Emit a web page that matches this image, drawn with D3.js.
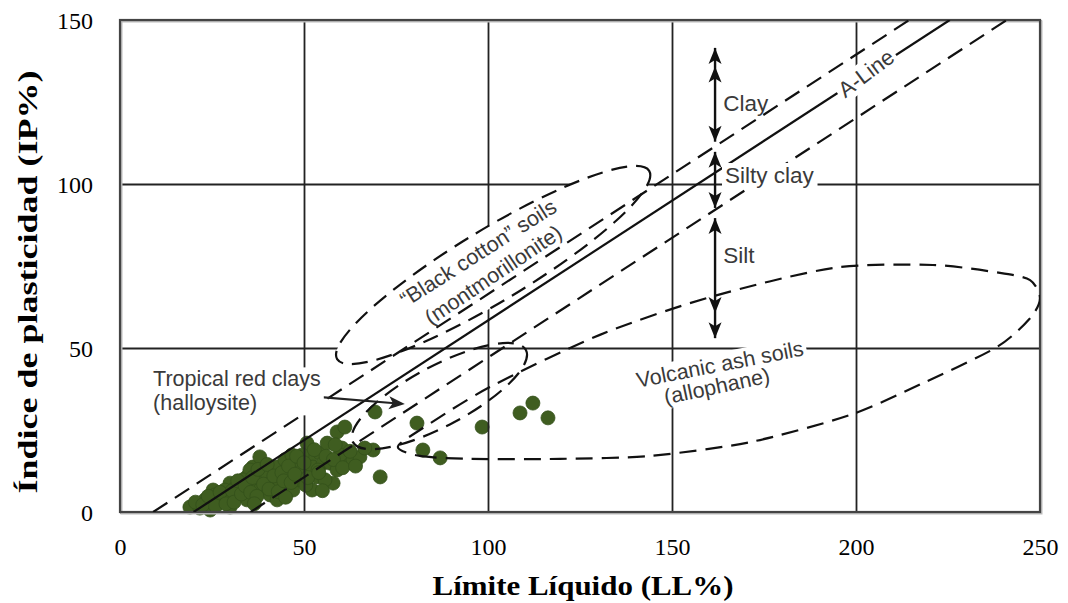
<!DOCTYPE html>
<html>
<head>
<meta charset="utf-8">
<script src="https://cdn.jsdelivr.net/npm/d3@7"></script>
<style>
  body { margin: 0; background: #fff; }
  svg { display: block; }
</style>
</head>
<body>
<svg id="chart" width="1068" height="603"></svg>
<script>
// Plasticity chart: liquid limit vs plasticity index, with soil groups

const xTicks = [0, 50, 100, 150, 200, 250];
const yTicks = [0, 50, 100, 150];

// A-line family, PI = slope * (LL - offset)
const lineSlope = 0.73;
const boundaryOffsets = [9, 20, 35.5];
const boundaryDashed = [true, false, true];

// Measured samples
const liquidLimit = [
  19.0, 21.7, 24.5, 23.1, 25.3, 26.6, 28.0, 29.9, 29.9, 31.8, 32.6, 34.5, 34.5,
  36.1, 36.7, 38.0, 38.0, 38.6, 39.9, 40.8, 41.3, 42.7, 42.7, 43.5, 44.8, 45.4,
  46.2, 47.0, 48.1, 48.9, 49.7, 50.8, 51.6, 52.4, 52.2, 53.5, 54.3, 55.2, 56.3,
  57.1, 57.9, 59.0, 59.0, 60.3, 61.1, 61.7, 63.3, 65.2, 68.8, 69.3, 70.7,
  35.3, 33.4, 31.3, 28.5, 25.8, 29.3, 46.7, 49.5, 53.8, 55.7, 59.8, 50.5,
  20.5, 22.5, 24.0, 26.0, 27.2, 28.8, 30.5, 31.0, 32.0, 33.0, 34.0, 35.5,
  36.0, 37.2, 37.5, 39.0, 40.0, 40.5, 41.8, 43.0, 44.0, 44.5, 45.8, 46.5,
  47.5, 48.0, 50.0, 51.0, 52.8, 54.0, 56.0, 58.0, 60.5, 62.5, 64.0, 66.5,
  58.5, 55.0, 45.0, 36.5,
  80.7, 82.3, 87.0, 98.4, 108.7, 112.2, 116.3
];
const plasticityIndex = [
  1.5, 1.2, 0.6, 3.7, 6.7, 2.7, 4.6, 8.8, 1.5, 5.2, 7.3, 10.7, 3.7,
  13.7, 8.2, 6.7, 16.8, 11.3, 11.9, 5.2, 9.1, 13.7, 3.7, 8.8, 15.9, 11.3,
  12.8, 6.7, 14.9, 9.8, 12.8, 21.0, 16.5, 13.7, 6.7, 10.7, 18.0, 14.9, 21.0,
  14.9, 8.8, 12.8, 24.4, 19.5, 25.9, 14.9, 15.9, 16.8, 18.9, 30.5, 10.7,
  12.8, 9.8, 7.3, 6.7, 5.2, 3.7, 17.4, 17.4, 12.8, 9.8, 17.4, 8.2,
  3.0, 2.2, 4.8, 1.8, 6.0, 2.5, 6.5, 3.0, 9.5, 5.5, 8.0, 6.0,
  10.5, 4.8, 13.0, 8.5, 14.5, 7.0, 11.0, 6.2, 12.0, 9.5, 14.0, 9.0,
  11.5, 17.0, 15.0, 10.5, 19.0, 12.0, 17.0, 16.0, 13.5, 18.5, 14.0, 19.5,
  20.5, 6.5, 4.5, 2.5,
  27.1, 18.9, 16.5, 25.9, 30.2, 33.2, 28.7
];

// Soil group outlines (LL, PI)
const blackCottonEnds = [[59.0, 46.6], [143.8, 104.0]];
const tropicalEnds = [[63.3, 21.3], [110.3, 49.4]];
const volcanicOutline = [
  [75.5, 19.8], [81.5, 17.1], [95.1, 16.2], [119.6, 16.2], [144.0, 17.1],
  [171.2, 21.3], [198.4, 29.6], [218.2, 39.3], [238.3, 50.3], [247.3, 59.1],
  [250.0, 65.2], [247.3, 70.7], [239.1, 72.9], [220.9, 75.3], [193.8, 74.4],
  [160.3, 65.5], [130.4, 54.0], [100.5, 38.1], [81.5, 25.0]
];

// Range arrows at LL = 161.7 (PI from, PI to)
const arrowLL = 161.7;
const rangeArrows = [
  { from: 112.9, to: 141.5, heads: [[141.5, 1], [135.8, 1], [112.9, -1]] },
  { from: 92.7, to: 109.8, heads: [[109.8, 1], [92.7, -1]] },
  { from: 53.0, to: 89.6, heads: [[89.6, 1], [60.7, -1], [53.0, -1]] }
];

// Pointer from the tropical clay label
const tropicalPointer = [[53.8, 35.1], [77.4, 32.9]];

const W = 1068, H = 603;
const margin = { top: 20, right: 28, bottom: 91, left: 120 };
const iw = W - margin.left - margin.right;
const ih = H - margin.top - margin.bottom;

const x = d3.scaleLinear().domain([0, 250]).range([margin.left, margin.left + iw]);
const y = d3.scaleLinear().domain([0, 150]).range([margin.top + ih, margin.top]);

const svg = d3.select("#chart");
const serif = "'Liberation Serif', 'Times New Roman', serif";
const sans = "'Liberation Sans', Arial, sans-serif";
const ink = "#111";

svg.append("defs").append("clipPath").attr("id", "plot")
  .append("rect").attr("x", margin.left).attr("y", margin.top)
  .attr("width", iw).attr("height", ih);

// Samples (under the grid)
svg.append("g").selectAll("circle")
  .data(liquidLimit.map((ll, i) => [ll, plasticityIndex[i]]))
  .join("circle")
  .attr("cx", d => x(d[0]))
  .attr("cy", d => y(d[1]))
  .attr("r", 7)
  .attr("fill", "#3f5d20")
  .attr("stroke", "#34501a")
  .attr("stroke-width", 0.8);

// Grid via axes
const gx = svg.append("g")
  .attr("transform", `translate(0,${margin.top + ih})`)
  .call(d3.axisBottom(x).tickValues(xTicks).tickSize(-ih).tickSizeOuter(0).tickPadding(0));
const gy = svg.append("g")
  .attr("transform", `translate(${margin.left},0)`)
  .call(d3.axisLeft(y).tickValues(yTicks).tickSize(-iw).tickSizeOuter(0).tickPadding(0));
[gx, gy].forEach(g => {
  g.select(".domain").remove();
  g.selectAll(".tick line").attr("stroke", "#222").attr("stroke-width", 1.8);
  g.selectAll(".tick text").attr("fill", "#000")
    .attr("font-family", serif).attr("font-size", 24);
});
gx.selectAll(".tick text").attr("y", 43).attr("dy", null);
gy.selectAll(".tick text").attr("x", -27).attr("dy", "0.34em");

// Plot frame
svg.append("rect")
  .attr("x", margin.left + 1.5).attr("y", margin.top + 1.5)
  .attr("width", iw).attr("height", ih)
  .attr("fill", "none").attr("stroke", "#bbb").attr("stroke-width", 2);
svg.append("rect")
  .attr("x", margin.left).attr("y", margin.top)
  .attr("width", iw).attr("height", ih)
  .attr("fill", "none").attr("stroke", "#444").attr("stroke-width", 2.2);

const layer = svg.append("g").attr("clip-path", "url(#plot)");

function ellipseFromEnds(g, ends, halfWidth, fill) {
  const [p1, p2] = ends.map(d => [x(d[0]), y(d[1])]);
  const cx = (p1[0] + p2[0]) / 2, cy = (p1[1] + p2[1]) / 2;
  const a = Math.hypot(p2[0] - p1[0], p2[1] - p1[1]) / 2;
  const ang = Math.atan2(p2[1] - p1[1], p2[0] - p1[0]) * 180 / Math.PI;
  return g.append("ellipse")
    .attr("cx", cx).attr("cy", cy).attr("rx", a).attr("ry", halfWidth)
    .attr("transform", `rotate(${ang},${cx},${cy})`)
    .attr("fill", fill).attr("stroke", ink).attr("stroke-width", 2.2)
    .attr("stroke-dasharray", "16,9");
}

// Black cotton soils zone (opaque)
ellipseFromEnds(layer, blackCottonEnds, 36, "#fff");

// A-line and its parallel bounds
boundaryOffsets.forEach((off, i) => {
  const llEnd = off + 150 / lineSlope;
  layer.append("line")
    .attr("x1", x(off)).attr("y1", y(0))
    .attr("x2", x(llEnd)).attr("y2", y(150))
    .attr("stroke", ink).attr("stroke-width", 2.2)
    .attr("stroke-dasharray", boundaryDashed[i] ? "17,9" : null);
});

// Tropical red clays zone
ellipseFromEnds(layer, tropicalEnds, 30, "none");

// Volcanic ash soils zone
layer.append("path")
  .attr("d", d3.line().x(d => x(d[0])).y(d => y(d[1])).curve(d3.curveCardinalClosed.tension(0.2))(volcanicOutline))
  .attr("fill", "none").attr("stroke", ink).attr("stroke-width", 2.2)
  .attr("stroke-dasharray", "17,9");

// Range arrows
const ax = x(arrowLL);
const arrows = svg.append("g");
rangeArrows.forEach(r => {
  arrows.append("line")
    .attr("x1", ax).attr("x2", ax)
    .attr("y1", y(r.from)).attr("y2", y(r.to))
    .attr("stroke", ink).attr("stroke-width", 2.4);
  r.heads.forEach(([pi, dir]) => {
    const ty = y(pi);
    const by = ty + dir * 16;
    arrows.append("path")
      .attr("d", `M${ax},${ty} L${ax - 6.5},${by} L${ax},${by - dir * 4} L${ax + 6.5},${by} Z`)
      .attr("fill", ink);
  });
});

// Pointer arrow
{
  const [p1, p2] = tropicalPointer.map(d => [x(d[0]), y(d[1])]);
  const ang = Math.atan2(p2[1] - p1[1], p2[0] - p1[0]);
  arrows.append("line")
    .attr("x1", p1[0]).attr("y1", p1[1])
    .attr("x2", p2[0] - 10 * Math.cos(ang)).attr("y2", p2[1] - 10 * Math.sin(ang))
    .attr("stroke", "#222").attr("stroke-width", 2.2);
  arrows.append("path")
    .attr("d", "M0,0 L-16,-6.5 L-12,0 L-16,6.5 Z")
    .attr("transform", `translate(${p2[0]},${p2[1]}) rotate(${ang * 180 / Math.PI})`)
    .attr("fill", "#222");
}

// Annotation labels: text, anchor (LL, PI), rotation, anchor mode, backing box
const labels = [
  { lines: ["Tropical red clays", "(halloysite)"], at: [9.0, 38.3], rot: 0, anchor: "start", box: true, lead: 24, size: 21.5 },
  { lines: ["Clay"], at: [163.9, 122.3], rot: 0, anchor: "start", box: false, size: 22.5 },
  { lines: ["Silty clay"], at: [164.4, 100.3], rot: 0, anchor: "start", box: true, size: 22.5 },
  { lines: ["Silt"], at: [163.9, 75.9], rot: 0, anchor: "start", box: false, size: 22.5 },
  { lines: ["A-Line"], at: [202.7, 133.8], rot: -37, anchor: "middle", box: true, center: true, size: 22 },
  { lines: ["\u201cBlack cotton\u201d soils"], at: [97.3, 79.0], rot: -32.5, anchor: "middle", box: false, center: true, size: 21.5 },
  { lines: ["(montmorillonite)"], at: [101.4, 72.3], rot: -34, anchor: "middle", box: false, center: true, size: 21.5 },
  { lines: ["Volcanic ash soils"], at: [163.0, 45.1], rot: -11, anchor: "middle", box: true, center: true, size: 21.5 },
  { lines: ["(allophane)"], at: [162.2, 38.4], rot: -12, anchor: "middle", box: true, center: true, size: 21.5 }
];

const labelLayer = svg.append("g");
labels.forEach(l => {
  const g = labelLayer.append("g")
    .attr("transform", `translate(${x(l.at[0])},${y(l.at[1])}) rotate(${l.rot})`);
  const t = g.append("text")
    .attr("font-family", sans).attr("font-size", l.size).attr("fill", "#3a3a3a")
    .attr("text-anchor", l.anchor);
  l.lines.forEach((s, i) => {
    t.append("tspan").attr("x", 0).attr("y", i * (l.lead || 0))
      .attr("dy", l.center ? "0.35em" : null).text(s);
  });
  if (l.box) {
    const b = t.node().getBBox();
    g.insert("rect", "text")
      .attr("x", b.x - 3).attr("y", b.y)
      .attr("width", b.width + 6).attr("height", b.height)
      .attr("fill", "#fff");
  }
});

// Axis titles
svg.append("text")
  .attr("x", 583).attr("y", 595)
  .attr("text-anchor", "middle")
  .attr("font-family", serif).attr("font-weight", "bold").attr("font-size", 27)
  .attr("textLength", 301).attr("lengthAdjust", "spacingAndGlyphs")
  .text("Límite Líquido (LL%)");
svg.append("text")
  .attr("transform", "translate(37,282) rotate(-90)")
  .attr("text-anchor", "middle")
  .attr("font-family", serif).attr("font-weight", "bold").attr("font-size", 28)
  .attr("textLength", 423).attr("lengthAdjust", "spacingAndGlyphs")
  .text("Índice de plasticidad (IP%)");
</script>
</body>
</html>
